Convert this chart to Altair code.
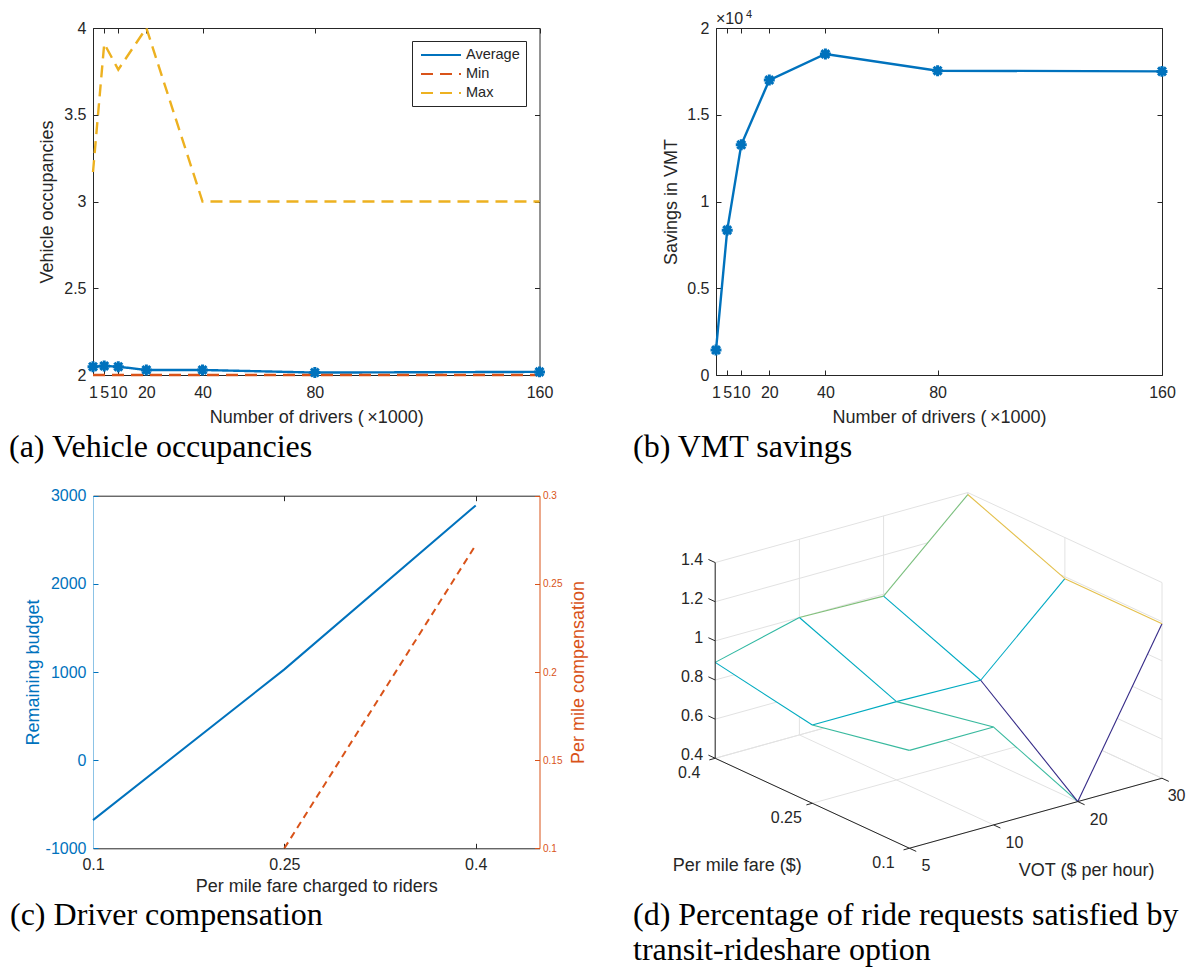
import altair as alt
import pandas as pd

# ---------------- data ----------------
drivers = [1, 5, 10, 20, 40, 80, 160]
occ_avg = [2.048, 2.052, 2.048, 2.029, 2.029, 2.014, 2.018]
occ_min = [2.0, 2.0, 2.0, 2.0, 2.0, 2.0, 2.0]
occ_max = [3.17, 3.91, 3.76, 4.0, 3.0, 3.0, 3.0]
occ_series = ["Average", "Min", "Max"]
vmt_savings = [1440, 8350, 13270, 17000, 18500, 17540, 17500]
fare_c = [0.1, 0.25, 0.4]
budget = [-680, 1030, 2890]
fare_comp = [0.25, 0.4]
compensation = [0.1, 0.272]
vot = [5, 10, 20, 30]
fare_d = [0.4, 0.25, 0.1]
satisfied = [
    [0.89, 1.00, 0.99, 1.39],   # fare 0.4
    [0.80, 0.80, 0.79, 1.19],   # fare 0.25
    [0.90, 0.90, 0.40, 1.19],   # fare 0.1
]
driver_ticks = [1, 5, 10, 20, 40, 80, 160]
occ_ticks = [2, 2.5, 3, 3.5, 4]
vmt_ticks = [0, 5000, 10000, 15000, 20000]
fare_ticks = [0.1, 0.25, 0.4]
budget_ticks = [-1000, 0, 1000, 2000, 3000]
comp_ticks = [0.1, 0.15, 0.2, 0.25, 0.3]
z_ticks = [0.4, 0.6, 0.8, 1.0, 1.2, 1.4]
captions = ["(a) Vehicle occupancies", "(b) VMT savings", "(c) Driver compensation",
            "(d) Percentage of ride requests satisfied by the", "transit-rideshare option"]

# ---------------- layout / style ----------------
W, H = 1178, 960
FONT = "Liberation Sans"
SERIF = "Liberation Serif"
INK = "#262626"
BLUE = "#0072BD"
ORANGE = "#D95319"
YELLOW = "#EDB120"
GRID = "#e2e2e2"
PARULA = ["#352A87", "#0363E1", "#1485D4", "#06A7C6", "#38B99E",
          "#92BF73", "#D9BA56", "#FCCE2E", "#F9FB0E"]
STAR = "M-1,0L1,0M0,-1L0,1M-0.72,-0.72L0.72,0.72M-0.72,0.72L0.72,-0.72"
LBL = "'' + datum.value"

A_X, A_Y = [85, 531.5], [367, 20]
B_X, B_Y = [708, 1154], [367, 20]
C_X, C_Y = [85, 531.5], [840.3, 487.7]
D_X, D_Y = [707.2, 1154.0], [482.2, 884.3]


def sc(domain, rng):
    return alt.Scale(domain=domain, range=rng, nice=False, zero=False)


def axis(orient, at, **kw):
    off = {"bottom": at - H, "top": -at, "left": -at, "right": at - W}[orient]
    spec = dict(orient=orient, offset=off, grid=False, labelFont=FONT, labelFontSize=16,
                labelColor=INK, titleFont=FONT, titleFontSize=18, titleFontWeight="normal",
                titleColor=INK, domainColor=INK, domainWidth=1, tickColor=INK, tickWidth=1,
                labelOverlap=False, labelFlush=False, title="")
    spec.update(kw)
    return alt.Axis(**spec)


def ticks_only(orient, at, values, **kw):
    return axis(orient, at, values=values, labels=False, domain=False, ticks=True, tickSize=5, **kw)


def box(orient, at, values, **kw):
    return axis(orient, at, values=values, labels=False, domain=True, ticks=True, tickSize=5, **kw)


layers = []

# ---------------- panel (a) ----------------
dfA = pd.DataFrame({
    "drivers": drivers * 3,
    "value": occ_avg + occ_min + occ_max,
    "series": [occ_series[0]] * len(drivers) + [occ_series[1]] * len(drivers) + [occ_series[2]] * len(drivers),
})
dfA_avg = pd.DataFrame({"drivers": drivers, "value": occ_avg})
sAx, sAy = sc([1, 160], A_X), sc([2, 4], A_Y)


def encA(xa, ya):
    return dict(x=alt.X("drivers:Q", scale=sAx, axis=xa), y=alt.Y("value:Q", scale=sAy, axis=ya))


legA = alt.Legend(orient="none", legendX=404, legendY=33, title=None,
                  symbolType="M-1,0H4.714", symbolSize=196, symbolStrokeWidth=2,
                  labelFont=FONT, labelFontSize=14.5, labelColor=INK,
                  strokeColor=INK, fillColor="white", padding=6, rowPadding=4,
                  labelOffset=30, symbolOffset=2)

layers.append(alt.Chart(dfA).mark_line(strokeWidth=2.4).encode(
    **encA(axis("bottom", A_Y[0], values=driver_ticks, ticks=False, labelPadding=9, labelExpr=LBL,
                title="Number of drivers (\u2009\u00d71000)", titlePadding=8),
           axis("left", A_X[0], values=occ_ticks, ticks=False, labelPadding=7, labelExpr=LBL,
                title="Vehicle occupancies", titlePadding=7)),
    color=alt.Color("series:N", scale=alt.Scale(domain=occ_series, range=[BLUE, ORANGE, YELLOW]), legend=legA),
    strokeDash=alt.StrokeDash("series:N", scale=alt.Scale(domain=occ_series, range=[[1, 0], [12, 7], [12, 7]]),
                              legend=legA),
))
layers.append(alt.Chart(dfA_avg).mark_point(shape=STAR, size=120, filled=False, strokeWidth=3,
                                            color=BLUE, opacity=1).encode(
    **encA(ticks_only("top", A_Y[0], driver_ticks), ticks_only("right", A_X[0], occ_ticks))))
layers.append(alt.Chart(dfA_avg).mark_point(opacity=0).encode(
    **encA(box("bottom", A_Y[1], driver_ticks), box("left", A_X[1], occ_ticks))))

# ---------------- panel (b) ----------------
dfB = pd.DataFrame({"drivers": drivers, "savings": vmt_savings})
sBx, sBy = sc([1, 160], B_X), sc([0, 20000], B_Y)


def encB(xa, ya):
    return dict(x=alt.X("drivers:Q", scale=sBx, axis=xa), y=alt.Y("savings:Q", scale=sBy, axis=ya))


layers.append(alt.Chart(dfB).mark_line(strokeWidth=2.4, color=BLUE).encode(
    **encB(axis("bottom", B_Y[0], values=driver_ticks, ticks=False, labelPadding=9, labelExpr=LBL,
                title="Number of drivers (\u2009\u00d71000)", titlePadding=8),
           axis("left", B_X[0], values=vmt_ticks, ticks=False, labelPadding=7,
                labelExpr="'' + (datum.value / 10000)", title="Savings in VMT", titlePadding=6))))
layers.append(alt.Chart(dfB).mark_point(shape=STAR, size=120, filled=False, strokeWidth=3,
                                        color=BLUE, opacity=1).encode(
    **encB(ticks_only("top", B_Y[0], driver_ticks), ticks_only("right", B_X[0], vmt_ticks))))
layers.append(alt.Chart(dfB).mark_point(opacity=0).encode(
    **encB(box("bottom", B_Y[1], driver_ticks), box("left", B_X[1], vmt_ticks))))
layers.append(alt.Chart(pd.DataFrame({"t": ["\u00d710"]})).mark_text(
    font=FONT, fontSize=16, color=INK, align="left", baseline="middle").encode(
    x=alt.value(B_X[0]), y=alt.value(10.5), text="t:N"))
layers.append(alt.Chart(pd.DataFrame({"t": ["4"]})).mark_text(
    font=FONT, fontSize=11, color=INK, align="left", baseline="middle").encode(
    x=alt.value(B_X[0] + 30), y=alt.value(6.5), text="t:N"))

# ---------------- panel (c) ----------------
dfC1 = pd.DataFrame({"fare": fare_c, "budget": budget})
dfC2 = pd.DataFrame({"fare": fare_comp, "comp": compensation})
sCx, sCy1, sCy2 = sc([0.1, 0.45], C_X), sc([-1000, 3000], C_Y), sc([0.1, 0.3], C_Y)

layers.append(alt.Chart(dfC1).mark_line(strokeWidth=2, color=BLUE).encode(
    x=alt.X("fare:Q", scale=sCx, axis=axis("bottom", C_Y[0], values=fare_ticks, ticks=False, labelPadding=8,
                                          labelExpr=LBL, title="Per mile fare charged to riders",
                                          titlePadding=5)),
    y=alt.Y("budget:Q", scale=sCy1, axis=axis("left", C_X[0], values=budget_ticks, ticks=False, labelPadding=7,
                                              labelExpr=LBL, labelColor=BLUE, domainColor="#8cc3e6",
                                              title="Remaining budget", titleColor=BLUE, titlePadding=3))))
layers.append(alt.Chart(dfC2).mark_line(strokeWidth=2, color=ORANGE, strokeDash=[7, 5]).encode(
    x=alt.X("fare:Q", scale=sCx, axis=ticks_only("top", C_Y[0], fare_ticks)),
    y=alt.Y("comp:Q", scale=sCy2, axis=axis("right", C_X[1], values=comp_ticks, ticks=False, labelPadding=3,
                                            labelExpr=LBL, labelFontSize=10, labelColor=ORANGE,
                                            domainColor=ORANGE, title="Per mile compensation",
                                            titleColor=ORANGE, titleAngle=270, titleBaseline="top",
                                            titlePadding=8))))
layers.append(alt.Chart(dfC1).mark_point(opacity=0).encode(
    x=alt.X("fare:Q", scale=sCx, axis=box("bottom", C_Y[1], fare_ticks)),
    y=alt.Y("budget:Q", scale=sCy1, axis=ticks_only("right", C_X[0], budget_ticks, tickColor=BLUE))))
layers.append(alt.Chart(dfC2).mark_point(opacity=0).encode(
    x=alt.X("fare:Q", scale=sCx, axis=None),
    y=alt.Y("comp:Q", scale=sCy2, axis=ticks_only("left", C_X[1], comp_ticks, tickColor=ORANGE))))

# ---------------- panel (d): projected 3-D mesh ----------------
nI, nJ = len(vot), len(fare_d)
z0, z1 = z_ticks[0], z_ticks[-1]
PU, PV, PW = (0.5653, -0.1567), (0.4347, 0.2014), (0.0, -0.4380)


def proj(i, j, z):
    u, v, w = i / (nI - 1), j / (nJ - 1), (z - z0) / (z1 - z0)
    return PU[0] * u + PV[0] * v + PW[0] * w, PU[1] * u + PV[1] * v + PW[1] * w


def seg(p, q, **extra):
    (x1, y1), (x2, y2) = proj(*p), proj(*q)
    d = dict(x1=x1, y1=y1, x2=x2, y2=y2)
    d.update(extra)
    return d


sDx, sDy = sc([0, 1], D_X), sc([-0.6, 0.3], D_Y)


def segenc():
    return dict(x=alt.X("x1:Q", scale=sDx, axis=None), x2="x2:Q",
                y=alt.Y("y1:Q", scale=sDy, axis=None), y2="y2:Q")


def ptenc():
    return dict(x=alt.X("x:Q", scale=sDx, axis=None), y=alt.Y("y:Q", scale=sDy, axis=None))


grid_rows = []
for i in range(nI):
    grid_rows.append(seg((i, 0, z0), (i, nJ - 1, z0)))
    grid_rows.append(seg((i, 0, z0), (i, 0, z1)))
for j in range(nJ):
    grid_rows.append(seg((0, j, z0), (nI - 1, j, z0)))
    grid_rows.append(seg((nI - 1, j, z0), (nI - 1, j, z1)))
for z in z_ticks:
    grid_rows.append(seg((0, 0, z), (nI - 1, 0, z)))
    grid_rows.append(seg((nI - 1, 0, z), (nI - 1, nJ - 1, z)))
layers.append(alt.Chart(pd.DataFrame(grid_rows)).mark_rule(color=GRID, strokeWidth=1).encode(**segenc()))

Z = satisfied
quads = [(i, j) for i in range(nI - 1) for j in range(nJ - 1)]
quads.sort(key=lambda q: -(q[0] - q[1]))
for (i, j) in quads:
    corners = [(i, j), (i + 1, j), (i + 1, j + 1), (i, j + 1), (i, j)]
    pts = [proj(a, b, Z[b][a]) for a, b in corners]
    dfq = pd.DataFrame({"x": [p[0] for p in pts], "y": [p[1] for p in pts], "k": list(range(len(pts)))})
    layers.append(alt.Chart(dfq).mark_line(fill="white", stroke="white", strokeWidth=0.5).encode(
        order="k:Q", **ptenc()))

edge_rows = []
for j in range(nJ):
    for i in range(nI - 1):
        edge_rows.append(seg((i, j, Z[j][i]), (i + 1, j, Z[j][i + 1]), cz=Z[j][i]))
for i in range(nI):
    for j in range(nJ - 1):
        edge_rows.append(seg((i, j, Z[j][i]), (i, j + 1, Z[j + 1][i]), cz=Z[j + 1][i]))
stops = [z0 + k * (z1 - z0) / (len(PARULA) - 1) for k in range(len(PARULA))]
layers.append(alt.Chart(pd.DataFrame(edge_rows)).mark_rule(strokeWidth=1.1).encode(
    color=alt.Color("cz:Q", scale=alt.Scale(domain=stops, range=PARULA), legend=None), **segenc()))

TK = 0.07
axis_rows = [seg((0, 0, z0), (0, 0, z1)), seg((0, 0, z0), (0, nJ - 1, z0)),
             seg((0, nJ - 1, z0), (nI - 1, nJ - 1, z0))]
for z in z_ticks:
    axis_rows.append(seg((0, 0, z), (0, -TK, z)))
for j in range(nJ):
    axis_rows.append(seg((0, j, z0), (-TK, j, z0)))
for i in range(nI):
    axis_rows.append(seg((i, nJ - 1, z0), (i, nJ - 1 + TK, z0)))
layers.append(alt.Chart(pd.DataFrame(axis_rows)).mark_rule(color=INK, strokeWidth=1).encode(**segenc()))


def label_df(points, labels):
    return pd.DataFrame({"x": [p[0] for p in points], "y": [p[1] for p in points], "label": labels})


zl = label_df([proj(0, 0, z) for z in z_ticks], [f"{z:g}" for z in z_ticks])
fl = label_df([proj(0, j, z0) for j in range(nJ)], [f"{f:g}" for f in fare_d])
vl_in = label_df([proj(i, nJ - 1, z0) for i in range(nI - 1)], [str(v) for v in vot[:-1]])
vl_end = label_df([proj(nI - 1, nJ - 1, z0)], [str(vot[-1])])
layers.append(alt.Chart(zl).mark_text(font=FONT, fontSize=16, color=INK, align="right", baseline="middle",
                                      dx=-12, dy=-3).encode(text="label:N", **ptenc()))
layers.append(alt.Chart(fl).mark_text(font=FONT, fontSize=16, color=INK, align="center", baseline="middle",
                                      dx=-26, dy=15).encode(text="label:N", **ptenc()))
layers.append(alt.Chart(vl_in).mark_text(font=FONT, fontSize=16, color=INK, align="left", baseline="middle",
                                         dx=12, dy=18).encode(text="label:N", **ptenc()))
# last VOT label sits against the picture's right edge
layers.append(alt.Chart(vl_end).mark_text(font=FONT, fontSize=16, color=INK, align="right", baseline="middle",
                                          dx=23.5, dy=18).encode(text="label:N", **ptenc()))
t1 = label_df([proj(0, (nJ - 1) / 2, z0)], ["Per mile fare ($)"])
t2 = label_df([proj((nI - 1) / 2, nJ - 1, z0)], ["VOT ($ per hour)"])
layers.append(alt.Chart(t1).mark_text(font=FONT, fontSize=18, color=INK, align="center", baseline="middle",
                                      dx=-75, dy=63).encode(text="label:N", **ptenc()))
layers.append(alt.Chart(t2).mark_text(font=FONT, fontSize=18, color=INK, align="center", baseline="middle",
                                      dx=51, dy=58).encode(text="label:N", **ptenc()))

# ---------------- captions ----------------
cap_pos = [(1, 438.7), (625, 438.7), (2, 907), (625, 907), (625, 942)]
for txt, (cx, cy) in zip(captions, cap_pos):
    layers.append(alt.Chart(pd.DataFrame({"t": [txt]})).mark_text(
        font=SERIF, fontSize=32, color="black", align="left", baseline="middle").encode(
        x=alt.value(cx), y=alt.value(cy), text="t:N"))

chart = alt.layer(*layers).resolve_scale(
    x="independent", y="independent", color="independent", strokeDash="independent"
).properties(
    width=W, height=H, padding=0, autosize=alt.AutoSizeParams(type="none")
).configure_view(strokeWidth=0)

chart.save("out.html", embed_options={"renderer": "svg", "actions": False})
